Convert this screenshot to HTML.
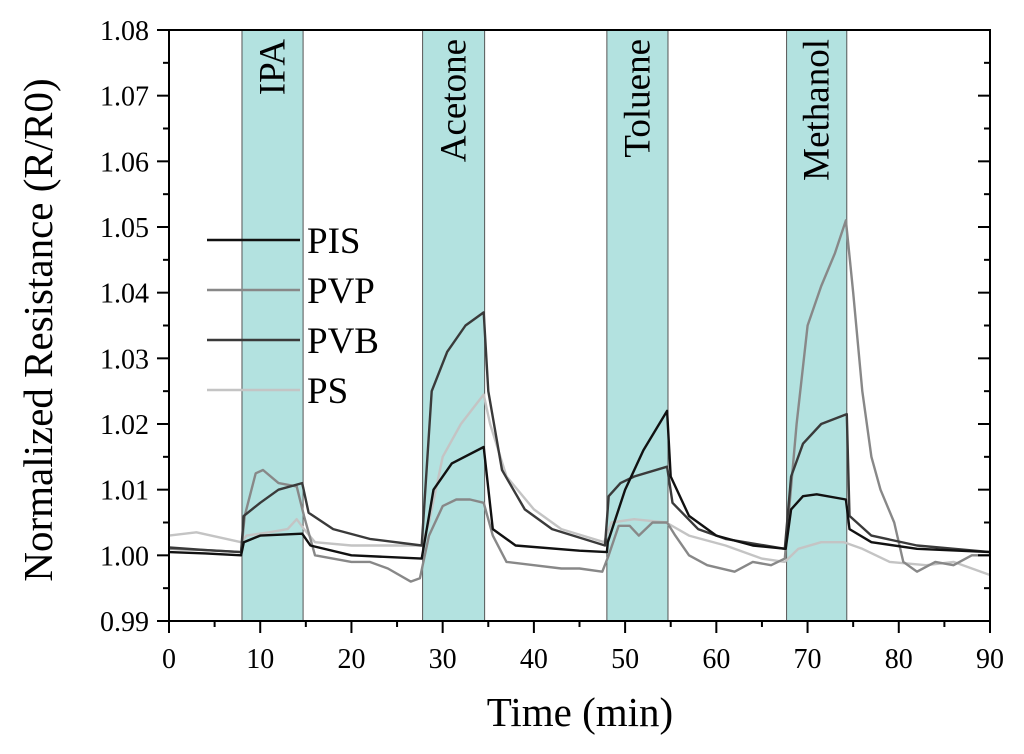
<!DOCTYPE html>
<html><head><meta charset="utf-8"><style>
body{margin:0;background:#fff}
svg text{font-family:"Liberation Serif",serif;fill:#000}
</style></head><body>
<svg id="chart" width="1024" height="749" xmlns="http://www.w3.org/2000/svg"></svg>
<script>
const xTicks=[0,10,20,30,40,50,60,70,80,90];
const yTicks=[0.99,1.00,1.01,1.02,1.03,1.04,1.05,1.06,1.07,1.08];
const bandNames=["IPA","Acetone","Toluene","Methanol"];
const bandStart=[8.0,27.8,48.0,67.7];
const bandEnd=[14.7,34.6,54.7,74.3];
const seriesNames=["PIS","PVP","PVB","PS"];
const pisT=[0,4,7.9,8.2,10,14.6,15.5,20,27.7,29,31,34.5,35.5,38,45,48,48.1,50,52,54.6,55,57,60,64,67.6,68.2,69.5,71,74.2,74.6,77,82,90];
const pisV=[1.0005,1.0003,1.0,1.002,1.003,1.0033,1.0015,1.0,0.9995,1.01,1.014,1.0165,1.004,1.0015,1.0007,1.0005,1.002,1.01,1.016,1.022,1.012,1.006,1.003,1.0015,1.001,1.007,1.009,1.0093,1.0085,1.004,1.002,1.001,1.0005];
const pvbT=[0,4,7.9,8.2,10,12,14.6,15.3,18,22,27.7,28.8,30.5,32.5,34.5,35,36.5,39,42,47.8,48.2,49.5,51,54.6,55.2,58,61,67.5,68.2,69.5,71.5,74.3,74.6,77,82,90];
const pvbV=[1.0012,1.0008,1.0005,1.006,1.008,1.01,1.011,1.0065,1.004,1.0025,1.0015,1.025,1.031,1.035,1.037,1.025,1.013,1.007,1.004,1.0015,1.009,1.011,1.012,1.0135,1.008,1.004,1.0025,1.001,1.012,1.017,1.02,1.0215,1.006,1.003,1.0015,1.0005];
const pvpT=[0,4,7.9,8.3,9.5,10.3,12,14,14.8,16,20,22,24,26.5,27.5,28.5,30,31.5,33,34.5,35.5,37,40,43,45,47.5,48.2,49.3,50.5,51.5,53,54.6,55.5,57,59,62,64,66,67.5,68.8,70,71.5,73,74.2,75,76,77,78,79.5,80.5,82,84,86,88,90];
const pvpV=[1.001,1.0008,1.0005,1.006,1.0125,1.013,1.011,1.0105,1.006,1.0,0.999,0.999,0.998,0.996,0.9965,1.003,1.0075,1.0085,1.0085,1.008,1.003,0.999,0.9985,0.998,0.998,0.9975,1.0,1.0045,1.0045,1.003,1.005,1.005,1.003,1.0,0.9985,0.9975,0.999,0.9985,0.9995,1.02,1.035,1.041,1.046,1.051,1.04,1.025,1.015,1.01,1.005,0.999,0.9975,0.999,0.9985,1.0,1.0];
const psT=[0,3,7.9,8.5,11,13,14,14.8,16,20,25,27.7,28.5,30,32,34.5,35.2,37,40,43,47.7,48.5,51,54.5,57,61,65,67.5,69,71.5,74,76,79,83,86,90];
const psV=[1.003,1.0035,1.002,1.003,1.0035,1.004,1.0055,1.004,1.002,1.0015,1.0015,1.0015,1.005,1.015,1.02,1.0245,1.02,1.012,1.007,1.004,1.002,1.005,1.0055,1.005,1.003,1.0015,0.9995,0.999,1.001,1.002,1.002,1.001,0.999,0.9985,0.999,0.997];
const NS="http://www.w3.org/2000/svg";
const svg=document.getElementById('chart');
const X0=169,X1=990,Y0=621,Y1=30;
const sx=v=>X0+(v-0)/90*(X1-X0);
const sy=v=>Y0-(v-0.99)/0.09*(Y0-Y1);
function mk(tag,attrs,parent){const e=document.createElementNS(NS,tag);for(const k in attrs)e.setAttribute(k,attrs[k]);(parent||svg).appendChild(e);return e;}
bandNames.forEach((n,i)=>{
  const r=mk('rect',{x:sx(bandStart[i]),y:Y1,width:sx(bandEnd[i])-sx(bandStart[i]),height:Y0-Y1,fill:'#b3e2e0',stroke:'#555','stroke-width':1});
  
  
  const cx=(sx(bandStart[i])+sx(bandEnd[i]))/2;
  const t=mk('text',{x:0,y:0,'font-size':37,'text-anchor':'end',transform:`translate(${cx+12},${39}) rotate(-90)`});
  t.textContent=n;
  
  
});
const colors=["#111","#888","#3a3a3a","#c4c4c4"];
const data=[[pisT,pisV],[pvpT,pvpV],[pvbT,pvbV],[psT,psV]];
[3,1,2,0].forEach(i=>{
  const [T,V]=data[i];
  const d=T.map((t,j)=>(j?'L':'M')+sx(t).toFixed(1)+','+sy(V[j]).toFixed(1)).join(' ');
  const p=mk('path',{d:d,fill:'none',stroke:colors[i],'stroke-width':2.4,'stroke-linejoin':'round'});
  
  
});
const fr=mk('rect',{x:X0,y:Y1,width:X1-X0,height:Y0-Y1,fill:'none',stroke:'#000','stroke-width':2});


yTicks.forEach(v=>{
  const y=sy(v);
  mk('line',{x1:X0,x2:X0-12,y1:y,y2:y,stroke:'#000','stroke-width':2});
  mk('line',{x1:X1,x2:X1-12,y1:y,y2:y,stroke:'#000','stroke-width':2});
  const t=mk('text',{x:X0-20,y:y+10,'font-size':28,'text-anchor':'end'});
  t.textContent=v.toFixed(2);
  
  
});
for(let k=0;k<yTicks.length-1;k++){const y=sy(yTicks[k]+0.005);
  mk('line',{x1:X0,x2:X0-6,y1:y,y2:y,stroke:'#000','stroke-width':2});
  mk('line',{x1:X1,x2:X1-6,y1:y,y2:y,stroke:'#000','stroke-width':2});}
xTicks.forEach(v=>{
  const x=sx(v);
  mk('line',{x1:x,x2:x,y1:Y0,y2:Y0+12,stroke:'#000','stroke-width':2});
  const t=mk('text',{x:x,y:Y0+47,'font-size':28,'text-anchor':'middle'});
  t.textContent=v;
  
  
});
for(let k=0;k<xTicks.length-1;k++){const x=sx(xTicks[k]+5);
  mk('line',{x1:x,x2:x,y1:Y0,y2:Y0+6,stroke:'#000','stroke-width':2});}
const xt=mk('text',{x:580,y:726,'font-size':41,'text-anchor':'middle'});
xt.textContent='Time (min)';


const yt=mk('text',{x:0,y:0,'font-size':41,'text-anchor':'middle',transform:'translate(52,330) rotate(-90)'});
yt.textContent='Normalized Resistance (R/R0)';


seriesNames.forEach((n,i)=>{
  const y=240+i*50;
  const g=mk('g',{});
  
  
  mk('line',{x1:207,x2:300,y1:y,y2:y,stroke:colors[i],'stroke-width':2.5},g);
  const t=mk('text',{x:307,y:y+13,'font-size':37},g);
  t.textContent=n;
});
</script>
</body></html>
